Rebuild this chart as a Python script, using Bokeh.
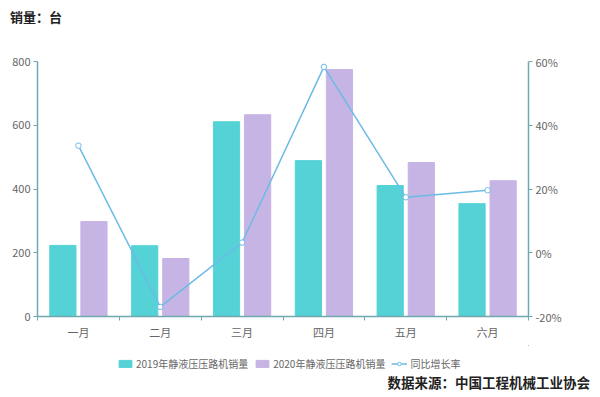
from bokeh.plotting import figure
from bokeh.layouts import column
from bokeh.models import (Range1d, LinearAxis, FixedTicker, PrintfTickFormatter,
                          ColumnDataSource, Legend, LegendItem, Div)
from bokeh.embed import file_html
from bokeh.resources import INLINE

months = ["一月", "二月", "三月", "四月", "五月", "六月"]
sales_2019 = [223, 222, 611, 489, 411, 354]
sales_2020 = [298, 182, 633, 775, 483, 426]
growth = [33.6, -17.0, 3.2, 58.3, 17.4, 19.6]
left_ticks = [0, 200, 400, 600, 800]
right_ticks = [-20, 0, 20, 40, 60]
series_names = ["2019年静液压压路机销量", "2020年静液压压路机销量", "同比增长率"]
title_text = "销量：台"
source_text = "数据来源：中国工程机械工业协会"

FONT = "Noto Sans CJK SC"
AXIS_COLOR = "#6fa8ae"
LABEL_COLOR = "#666666"
C2019 = "#54d2d6"
C2020 = "#c6b4e5"
CLINE = "#6cbbe6"

centers = [i + 0.5 for i in range(len(months))]
src = ColumnDataSource(dict(
    x19=[c - 0.19 for c in centers], x20=[c + 0.19 for c in centers], xc=centers,
    s19=sales_2019, s20=sales_2020, g=growth))

# title strip
title_div = Div(text=f'<div style="font-family:\'{FONT}\';font-weight:bold;font-size:13px;'
                     f'color:#222;line-height:16px;padding:9px 0 0 10px;white-space:nowrap">'
                     f'{title_text}</div>',
                width=600, height=40, margin=0)

p = figure(width=600, height=305, output_backend="svg", toolbar_location=None,
           x_range=Range1d(0, len(months)), y_range=Range1d(0, 800),
           min_border_left=37, min_border_right=72, min_border_top=21, min_border_bottom=29)
p.outline_line_color = None
p.xgrid.visible = False
p.ygrid.visible = False

p.extra_y_ranges = {"pct": Range1d(-20, 60)}

r19 = p.vbar(x="x19", top="s19", width=0.32, source=src, color=C2019)
r20 = p.vbar(x="x20", top="s20", width=0.32, source=src, color=C2020)
rl = p.line(x="xc", y="g", source=src, y_range_name="pct", line_color=CLINE, line_width=1.5)
rc = p.scatter(x="xc", y="g", source=src, y_range_name="pct", size=5.5, line_color=CLINE,
               fill_color="white", line_width=1)

def style_axis(ax):
    ax.axis_line_color = AXIS_COLOR
    ax.axis_line_width = 1.5
    ax.major_tick_line_color = AXIS_COLOR
    ax.minor_tick_line_color = None
    ax.major_tick_in = 0
    ax.major_tick_out = 4
    ax.major_label_text_color = LABEL_COLOR
    ax.major_label_text_font = FONT
    ax.major_label_text_font_size = "11px"
    ax.major_label_standoff = 3

xa = p.xaxis[0]
xa.ticker = FixedTicker(ticks=centers, minor_ticks=list(range(len(months) + 1)))
xa.major_label_overrides = {c: m for c, m in zip(centers, months)}
style_axis(xa)
xa.major_tick_line_color = None
xa.major_tick_out = 0
xa.minor_tick_line_color = AXIS_COLOR
xa.minor_tick_in = 0
xa.minor_tick_out = 4
xa.major_label_standoff = 3

ya = p.yaxis[0]
ya.ticker = FixedTicker(ticks=left_ticks)
style_axis(ya)

ra = LinearAxis(y_range_name="pct", ticker=FixedTicker(ticks=right_ticks),
                formatter=PrintfTickFormatter(format="%d%%"))
style_axis(ra)
p.add_layout(ra, "right")

# legend strip (proxy renderers share the data but lie outside this strip's view)
p2 = figure(width=600, height=30, output_backend="svg", toolbar_location=None,
            x_range=Range1d(-3, -2), y_range=Range1d(-3, -2),
            x_axis_location=None, y_axis_location=None,
            min_border_left=37, min_border_right=72, min_border_top=0, min_border_bottom=0)
p2.outline_line_color = None
p2.xgrid.visible = False
p2.ygrid.visible = False
l19 = p2.vbar(x="x19", top="s19", width=0.32, source=src, color=C2019)
l20 = p2.vbar(x="x20", top="s20", width=0.32, source=src, color=C2020)
ll = p2.line(x="xc", y="g", source=src, line_color=CLINE, line_width=1.5)
lc = p2.scatter(x="xc", y="g", source=src, size=6, line_color=CLINE, fill_color="white")

legend = Legend(items=[
    LegendItem(label=series_names[0], renderers=[l19]),
    LegendItem(label=series_names[1], renderers=[l20]),
    LegendItem(label=series_names[2], renderers=[ll, lc]),
], orientation="horizontal", location=(80, 4), border_line_color=None,
   background_fill_alpha=0,
   label_text_font=FONT, label_text_font_size="10px", label_text_color=LABEL_COLOR,
   glyph_width=16, glyph_height=9, spacing=6, label_standoff=3, padding=0, margin=0,
   label_height=12)
p2.add_layout(legend, "center")

source_div = Div(text=f'<div style="font-family:\'{FONT}\';font-weight:bold;font-size:13.5px;'
                      f'color:#222;line-height:14px;width:590px;text-align:right;'
                      f'white-space:nowrap">{source_text}</div>',
                 width=600, height=22, margin=0)

open("out.html", "w").write(file_html(column(title_div, p, p2, source_div, spacing=0), INLINE))
